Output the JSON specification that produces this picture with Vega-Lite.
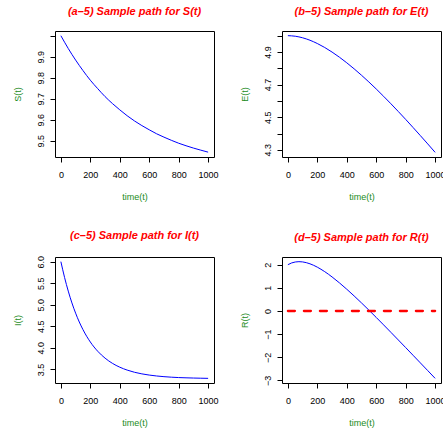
{
  "$schema": "https://vega.github.io/schema/vega-lite/v6.json",
  "padding": {"left": 12, "top": 5, "right": 5, "bottom": 5},
  "background": "white",
  "config": {
    "font": "Liberation Sans",
    "view": {"stroke": "black", "strokeWidth": 1},
    "title": {"color": "red", "fontSize": 11, "fontStyle": "italic", "fontWeight": "bold", "font": "Liberation Sans", "anchor": "middle", "offset": 14},
    "axis": {
      "domain": false, "grid": false, "ticks": true, "tickSize": 5, "tickColor": "black", "tickWidth": 1,
      "labelFont": "Liberation Sans", "labelFontSize": 9, "labelColor": "black", "labelOverlap": false, "labelFlush": false, "labelBound": false,
      "titleFont": "Liberation Sans", "titleFontSize": 9, "titleFontWeight": "normal", "titleColor": "#228B22"
    },
    "axisX": {"labelPadding": 8, "titlePadding": 13},
    "axisY": {"labelAngle": -90, "labelAlign": "center", "labelBaseline": "bottom", "labelPadding": 5, "titlePadding": 14}
  },
  "datasets": {
    "S": [
      {"t": 0, "v": 10.000}, {"t": 50, "v": 9.939}, {"t": 100, "v": 9.884}, {"t": 150, "v": 9.834},
      {"t": 200, "v": 9.788}, {"t": 250, "v": 9.748}, {"t": 300, "v": 9.710}, {"t": 350, "v": 9.677},
      {"t": 400, "v": 9.647}, {"t": 450, "v": 9.619}, {"t": 500, "v": 9.594}, {"t": 550, "v": 9.572},
      {"t": 600, "v": 9.552}, {"t": 650, "v": 9.533}, {"t": 700, "v": 9.517}, {"t": 750, "v": 9.502},
      {"t": 800, "v": 9.488}, {"t": 850, "v": 9.476}, {"t": 900, "v": 9.465}, {"t": 950, "v": 9.455},
      {"t": 1000, "v": 9.4455}
    ],
    "E": [
      {"t": 0, "v": 5.0000}, {"t": 50, "v": 4.9966}, {"t": 100, "v": 4.9870}, {"t": 150, "v": 4.9719},
      {"t": 200, "v": 4.9518}, {"t": 250, "v": 4.9276}, {"t": 300, "v": 4.8994}, {"t": 350, "v": 4.8680},
      {"t": 400, "v": 4.8336}, {"t": 450, "v": 4.7966}, {"t": 500, "v": 4.7574}, {"t": 550, "v": 4.7161},
      {"t": 600, "v": 4.6731}, {"t": 650, "v": 4.6283}, {"t": 700, "v": 4.5823}, {"t": 750, "v": 4.5349},
      {"t": 800, "v": 4.4867}, {"t": 850, "v": 4.4372}, {"t": 900, "v": 4.3871}, {"t": 950, "v": 4.3362},
      {"t": 1000, "v": 4.2847}
    ],
    "I": [
      {"t": 0, "v": 6.000}, {"t": 25, "v": 5.633}, {"t": 50, "v": 5.317}, {"t": 75, "v": 5.042},
      {"t": 100, "v": 4.805}, {"t": 125, "v": 4.600}, {"t": 150, "v": 4.423}, {"t": 200, "v": 4.136},
      {"t": 250, "v": 3.922}, {"t": 300, "v": 3.762}, {"t": 350, "v": 3.641}, {"t": 400, "v": 3.552},
      {"t": 450, "v": 3.485}, {"t": 500, "v": 3.434}, {"t": 550, "v": 3.397}, {"t": 600, "v": 3.369},
      {"t": 650, "v": 3.348}, {"t": 700, "v": 3.332}, {"t": 750, "v": 3.320}, {"t": 800, "v": 3.311},
      {"t": 850, "v": 3.305}, {"t": 900, "v": 3.300}, {"t": 950, "v": 3.296}, {"t": 1000, "v": 3.293}
    ],
    "R": [
      {"t": 0, "v": 2.0000}, {"t": 25, "v": 2.0745}, {"t": 50, "v": 2.1167}, {"t": 75, "v": 2.1304},
      {"t": 100, "v": 2.1198}, {"t": 150, "v": 2.0381}, {"t": 200, "v": 1.8929}, {"t": 250, "v": 1.7000},
      {"t": 300, "v": 1.4713}, {"t": 350, "v": 1.2162}, {"t": 400, "v": 0.9409}, {"t": 450, "v": 0.6505},
      {"t": 500, "v": 0.3490}, {"t": 550, "v": 0.0392}, {"t": 600, "v": -0.2771}, {"t": 650, "v": -0.5981},
      {"t": 700, "v": -0.9225}, {"t": 750, "v": -1.2496}, {"t": 800, "v": -1.5786}, {"t": 850, "v": -1.9093},
      {"t": 900, "v": -2.2409}, {"t": 950, "v": -2.5734}, {"t": 1000, "v": -2.9066}
    ],
    "ref": [{"t": 0, "t2": 1000, "v": 0}]
  },
  "columns": 2,
  "bounds": "flush",
  "spacing": {"row": 100, "column": 68},
  "concat": [
    {
      "width": 159, "height": 126,
      "title": "(a–5) Sample path for S(t)",
      "data": {"name": "S"},
      "mark": {"type": "line", "color": "blue", "strokeWidth": 1, "interpolate": "monotone"},
      "encoding": {
        "x": {"field": "t", "type": "quantitative", "scale": {"domain": [-40, 1040], "nice": false, "zero": false},
              "axis": {"values": [0, 200, 400, 600, 800, 1000], "format": "d", "title": "time(t)"}},
        "y": {"field": "v", "type": "quantitative", "scale": {"domain": [9.4224, 10.0224], "nice": false, "zero": false},
              "axis": {"values": [9.5, 9.6, 9.7, 9.8, 9.9, 10.0], "format": ".1f", "labelExpr": "datum.value > 9.95 ? '' : datum.label", "title": "S(t)"}}
      }
    },
    {
      "width": 159, "height": 126,
      "title": "(b–5) Sample path for E(t)",
      "data": {"name": "E"},
      "mark": {"type": "line", "color": "blue", "strokeWidth": 1, "interpolate": "monotone"},
      "encoding": {
        "x": {"field": "t", "type": "quantitative", "scale": {"domain": [-40, 1040], "nice": false, "zero": false},
              "axis": {"values": [0, 200, 400, 600, 800, 1000], "format": "d", "title": "time(t)"}},
        "y": {"field": "v", "type": "quantitative", "scale": {"domain": [4.2561, 5.0286], "nice": false, "zero": false},
              "axis": {"values": [4.3, 4.4, 4.5, 4.6, 4.7, 4.8, 4.9, 5.0], "format": ".1f", "labelExpr": "round(datum.value * 10) % 2 == 1 ? datum.label : ''", "title": "E(t)"}}
      }
    },
    {
      "width": 159, "height": 126,
      "title": "(c–5) Sample path for I(t)",
      "data": {"name": "I"},
      "mark": {"type": "line", "color": "blue", "strokeWidth": 1, "interpolate": "monotone"},
      "encoding": {
        "x": {"field": "t", "type": "quantitative", "scale": {"domain": [-40, 1040], "nice": false, "zero": false},
              "axis": {"values": [0, 200, 400, 600, 800, 1000], "format": "d", "title": "time(t)"}},
        "y": {"field": "v", "type": "quantitative", "scale": {"domain": [3.185, 6.108], "nice": false, "zero": false},
              "axis": {"values": [3.5, 4.0, 4.5, 5.0, 5.5, 6.0], "format": ".1f", "title": "I(t)"}}
      }
    },
    {
      "width": 159, "height": 126,
      "title": "(d–5) Sample path for R(t)",
      "encoding": {
        "x": {"field": "t", "type": "quantitative", "scale": {"domain": [-40, 1040], "nice": false, "zero": false},
              "axis": {"values": [0, 200, 400, 600, 800, 1000], "format": "d", "title": "time(t)"}},
        "y": {"field": "v", "type": "quantitative", "scale": {"domain": [-3.108, 2.332], "nice": false, "zero": false},
              "axis": {"values": [-3, -2, -1, 0, 1, 2], "format": "d", "title": "R(t)"}}
      },
      "layer": [
        {
          "data": {"name": "R"},
          "mark": {"type": "line", "color": "blue", "strokeWidth": 1, "interpolate": "monotone"}
        },
        {
          "data": {"name": "ref"},
          "mark": {"type": "rule", "color": "red", "strokeWidth": 2.3, "strokeDash": [7, 9], "strokeCap": "round"},
          "encoding": {
            "x2": {"field": "t2"}
          }
        }
      ]
    }
  ]
}
